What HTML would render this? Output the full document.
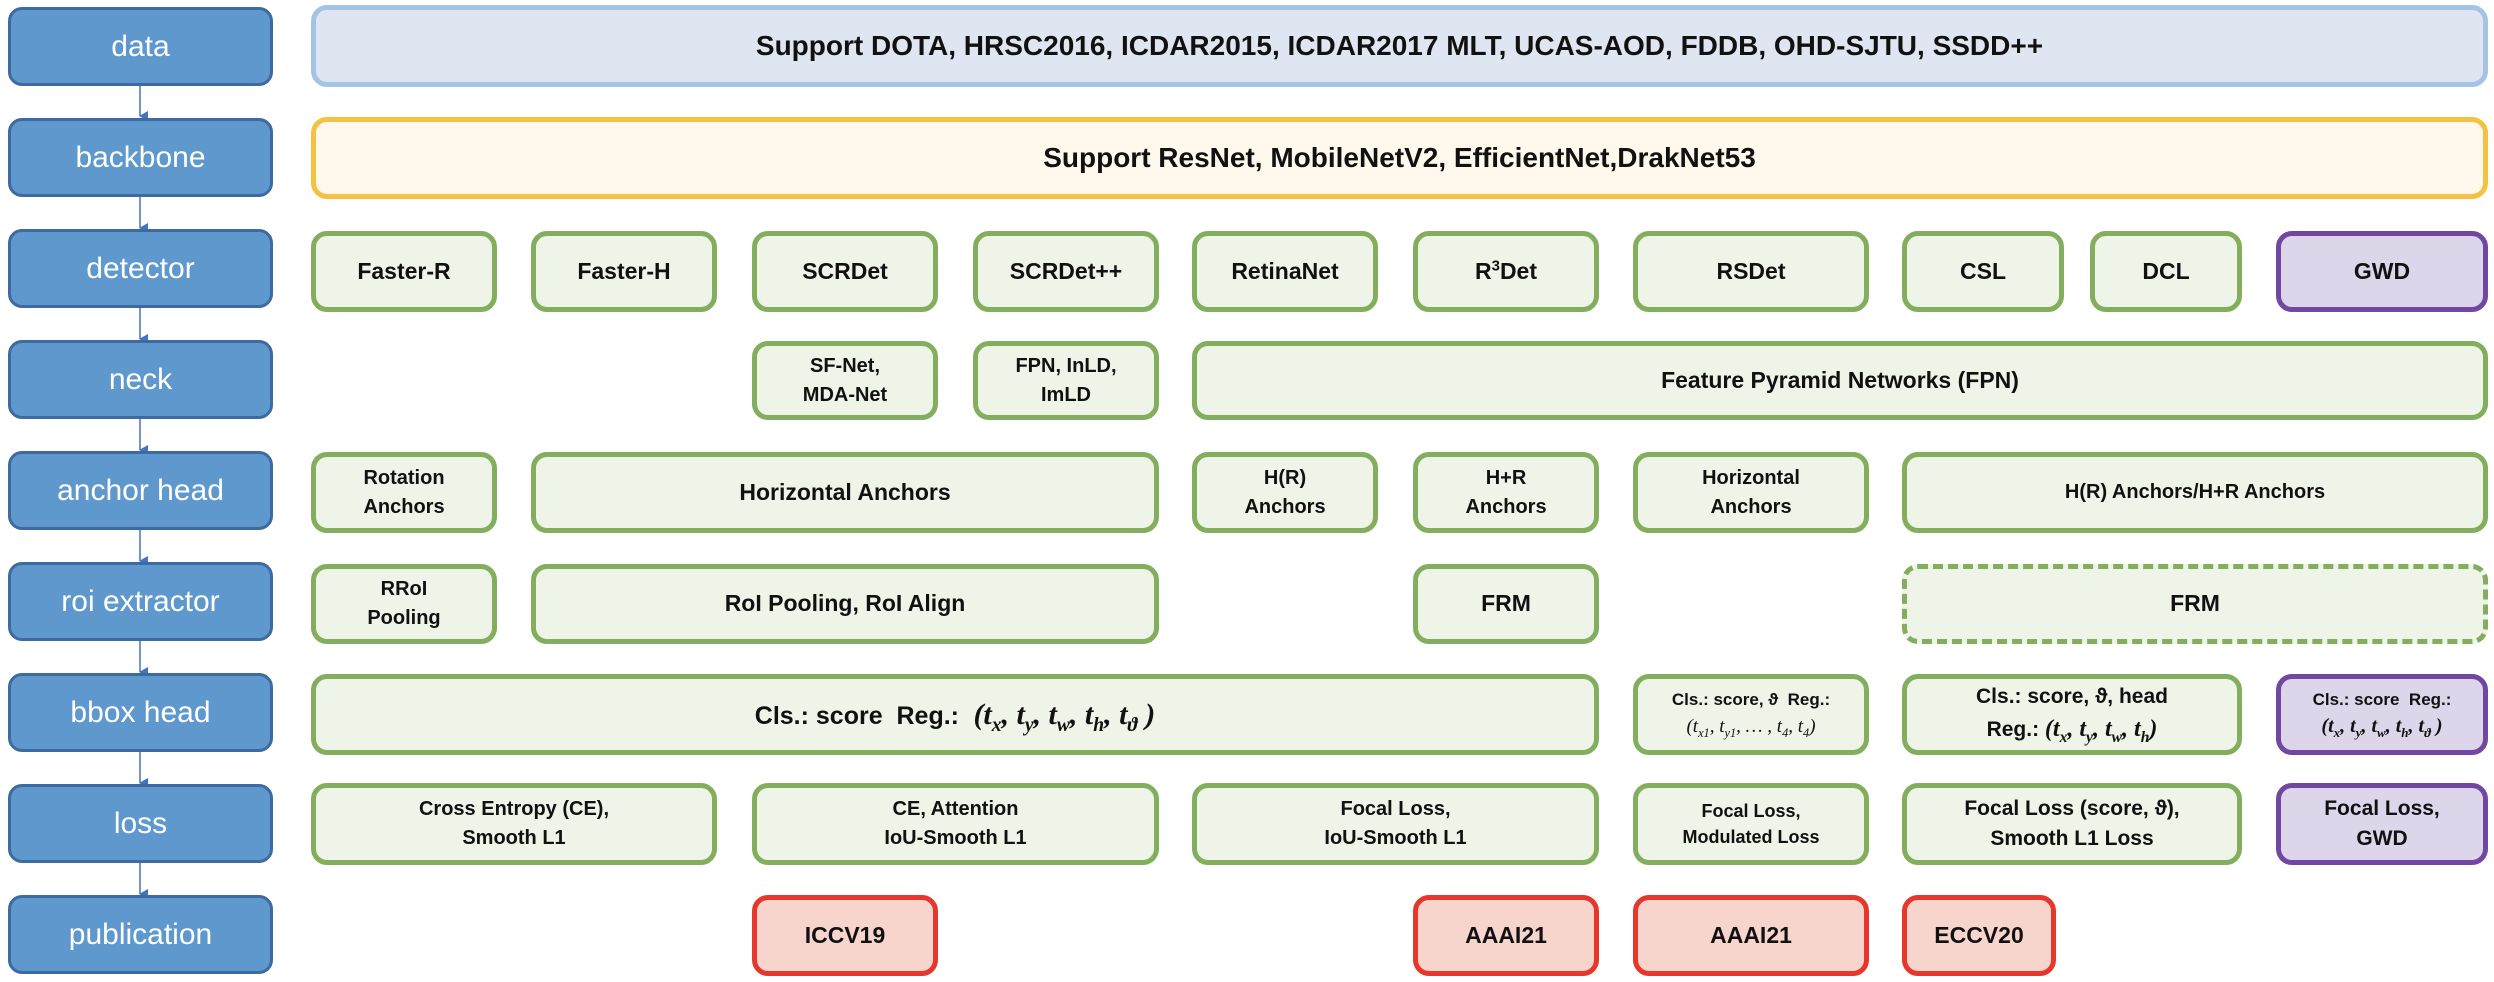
<!DOCTYPE html>
<html><head><meta charset="utf-8"><style>
body{margin:0;width:2494px;height:982px;background:#fff;position:relative;overflow:hidden;font-family:"Liberation Sans",sans-serif}
.b{position:absolute;display:flex;align-items:center;justify-content:center;text-align:center;box-sizing:border-box;border:5px solid #82ae5d;background:#eef4e7;border-radius:16px;font-weight:bold;font-size:23px;line-height:1.45;color:#111}
.l{position:absolute;left:8px;width:265px;height:79px;box-sizing:border-box;border:3px solid #3d6aa0;background:#5f98cd;border-radius:14px;color:#fff;font-size:30px;display:flex;align-items:center;justify-content:center}
.p{background:#ddd5ea;border-color:#7147a1}
.r{background:#f8d5cc;border-color:#e5372b}
.d{border-style:dashed}
.m{font-family:"Liberation Serif",serif;font-style:italic;font-weight:bold}
sub{font-size:65%;line-height:0}
</style></head><body>
<svg width="2494" height="982" style="position:absolute;left:0;top:0">
<defs><marker id="a" markerWidth="10" markerHeight="10" refX="5" refY="8" orient="auto" markerUnits="userSpaceOnUse"><path d="M0,0 L10,0 L5,9 Z" fill="#4472c4"/></marker></defs>
<g stroke="#4472c4" stroke-width="1.5" marker-end="url(#a)">
<line x1="140" y1="86" x2="140" y2="116"/><line x1="140" y1="197" x2="140" y2="228"/><line x1="140" y1="308" x2="140" y2="339"/><line x1="140" y1="419" x2="140" y2="450"/><line x1="140" y1="530" x2="140" y2="561"/><line x1="140" y1="641" x2="140" y2="672"/><line x1="140" y1="752" x2="140" y2="783"/><line x1="140" y1="863" x2="140" y2="894"/>
</g></svg>
<div class="l" style="top:7px">data</div>
<div class="l" style="top:118px">backbone</div>
<div class="l" style="top:229px">detector</div>
<div class="l" style="top:340px">neck</div>
<div class="l" style="top:451px">anchor head</div>
<div class="l" style="top:562px">roi extractor</div>
<div class="l" style="top:673px">bbox head</div>
<div class="l" style="top:784px">loss</div>
<div class="l" style="top:895px">publication</div>

<div class="b" style="left:311px;top:5px;width:2177px;height:82px;background:#dfe6f2;border-color:#a5c3e5;font-size:28px">Support DOTA, HRSC2016, ICDAR2015, ICDAR2017 MLT, UCAS-AOD, FDDB, OHD-SJTU, SSDD++</div>
<div class="b" style="left:311px;top:117px;width:2177px;height:82px;background:#fef9ec;border-color:#f6c143;font-size:28px">Support ResNet, MobileNetV2, EfficientNet,DrakNet53</div>

<div class="b" style="left:311px;top:231px;width:186px;height:81px">Faster-R</div>
<div class="b" style="left:531px;top:231px;width:186px;height:81px">Faster-H</div>
<div class="b" style="left:752px;top:231px;width:186px;height:81px">SCRDet</div>
<div class="b" style="left:973px;top:231px;width:186px;height:81px">SCRDet++</div>
<div class="b" style="left:1192px;top:231px;width:186px;height:81px">RetinaNet</div>
<div class="b" style="left:1413px;top:231px;width:186px;height:81px"><div>R<sup style="font-size:65%">3</sup>Det</div></div>
<div class="b" style="left:1633px;top:231px;width:236px;height:81px">RSDet</div>
<div class="b" style="left:1902px;top:231px;width:162px;height:81px">CSL</div>
<div class="b" style="left:2090px;top:231px;width:152px;height:81px">DCL</div>
<div class="b p" style="left:2276px;top:231px;width:212px;height:81px">GWD</div>

<div class="b" style="left:752px;top:341px;width:186px;height:79px;font-size:20px"><div>SF-Net,<br>MDA-Net</div></div>
<div class="b" style="left:973px;top:341px;width:186px;height:79px;font-size:20px"><div>FPN, InLD,<br>ImLD</div></div>
<div class="b" style="left:1192px;top:341px;width:1296px;height:79px">Feature Pyramid Networks (FPN)</div>

<div class="b" style="left:311px;top:452px;width:186px;height:81px;font-size:20px"><div>Rotation<br>Anchors</div></div>
<div class="b" style="left:531px;top:452px;width:628px;height:81px">Horizontal Anchors</div>
<div class="b" style="left:1192px;top:452px;width:186px;height:81px;font-size:20px"><div>H(R)<br>Anchors</div></div>
<div class="b" style="left:1413px;top:452px;width:186px;height:81px;font-size:20px"><div>H+R<br>Anchors</div></div>
<div class="b" style="left:1633px;top:452px;width:236px;height:81px;font-size:20px"><div>Horizontal<br>Anchors</div></div>
<div class="b" style="left:1902px;top:452px;width:586px;height:81px;font-size:20px">H(R) Anchors/H+R Anchors</div>

<div class="b" style="left:311px;top:564px;width:186px;height:80px;font-size:20px"><div>RRoI<br>Pooling</div></div>
<div class="b" style="left:531px;top:564px;width:628px;height:80px">RoI Pooling, RoI Align</div>
<div class="b" style="left:1413px;top:564px;width:186px;height:80px">FRM</div>
<div class="b d" style="left:1902px;top:564px;width:586px;height:80px">FRM</div>

<div class="b" style="left:311px;top:674px;width:1288px;height:81px;font-size:25px"><div>Cls.: score&nbsp; Reg.: <span class="m" style="font-size:30px">&nbsp;(t<sub>x</sub>, t<sub>y</sub>, t<sub>w</sub>, t<sub>h</sub>, t<sub>ϑ</sub> )</span></div></div>
<div class="b" style="left:1633px;top:674px;width:236px;height:81px;font-size:17px"><div>Cls.: score, ϑ&nbsp; Reg.:<br><span class="m" style="font-weight:normal;font-size:19px">(t<sub>x1</sub>, t<sub>y1</sub>, … , t<sub>4</sub>, t<sub>4</sub>)</span></div></div>
<div class="b" style="left:1902px;top:674px;width:340px;height:81px;font-size:21px"><div>Cls.: score, ϑ, head<br>Reg.: <span class="m" style="font-size:24px">(t<sub>x</sub>, t<sub>y</sub>, t<sub>w</sub>, t<sub>h</sub>)</span></div></div>
<div class="b p" style="left:2276px;top:674px;width:212px;height:81px;font-size:17px"><div>Cls.: score&nbsp; Reg.:<br><span class="m" style="font-size:20px">(t<sub>x</sub>, t<sub>y</sub>, t<sub>w</sub>, t<sub>h</sub>, t<sub>ϑ</sub> )</span></div></div>

<div class="b" style="left:311px;top:783px;width:406px;height:82px;font-size:20px"><div>Cross Entropy (CE),<br>Smooth L1</div></div>
<div class="b" style="left:752px;top:783px;width:407px;height:82px;font-size:20px"><div>CE, Attention<br>IoU-Smooth L1</div></div>
<div class="b" style="left:1192px;top:783px;width:407px;height:82px;font-size:20px"><div>Focal Loss,<br>IoU-Smooth L1</div></div>
<div class="b" style="left:1633px;top:783px;width:236px;height:82px;font-size:18px"><div>Focal Loss,<br>Modulated Loss</div></div>
<div class="b" style="left:1902px;top:783px;width:340px;height:82px;font-size:21px"><div>Focal Loss (score, ϑ),<br>Smooth L1 Loss</div></div>
<div class="b p" style="left:2276px;top:783px;width:212px;height:82px;font-size:21px"><div>Focal Loss,<br>GWD</div></div>

<div class="b r" style="left:752px;top:895px;width:186px;height:81px">ICCV19</div>
<div class="b r" style="left:1413px;top:895px;width:186px;height:81px">AAAI21</div>
<div class="b r" style="left:1633px;top:895px;width:236px;height:81px">AAAI21</div>
<div class="b r" style="left:1902px;top:895px;width:154px;height:81px">ECCV20</div>
</body></html>
